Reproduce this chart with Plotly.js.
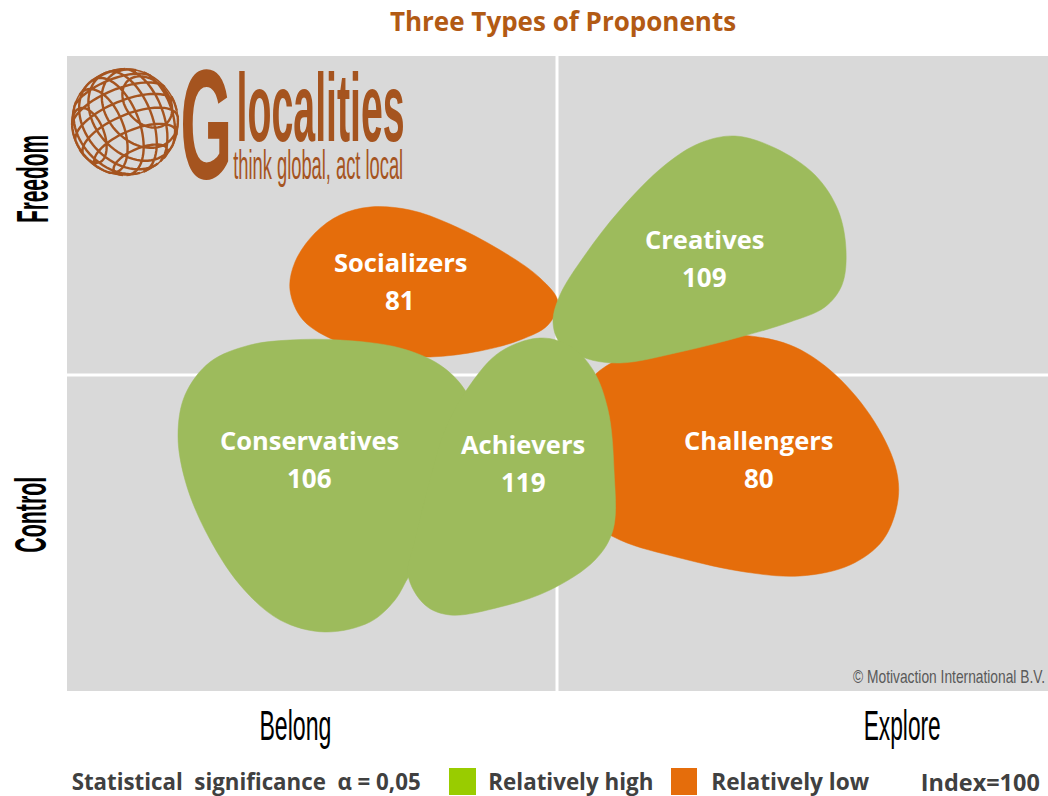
<!DOCTYPE html>
<html><head><meta charset="utf-8">
<script src="https://cdn.plot.ly/plotly-3.0.1.min.js"></script>
<style>html,body{margin:0;padding:0;background:#fff}</style></head>
<body><div id="chart" style="width:1048px;height:796px"></div>
<script>
// Blob outlines
const challengersX=[740,790,830,870,895,898,883,850,800,745,680,620,590,570,570,590,640,700,740];
const challengersY=[335,345,370,415,465,500,540,565,576,572,558,540,520,480,440,380,350,337,335];
const socializersX=[370,410,450,500,540,558,548,520,480,430,380,338,303,290,295,315,340,370];
const socializersY=[207,210,224,250,278,302,325,340,351,357,354,342,320,290,262,233,215,207];
const creativesX=[735,775,815,838,846,842,825,790,740,680,620,585,560,553,560,585,620,665,700,735];
const creativesY=[136,148,175,210,250,285,307,322,337,352,363,358,343,322,295,255,210,165,143,136];
const conservativesX=[290,340,400,440,465,480,470,440,410,395,370,325,280,240,205,185,178,185,210,250,290];
const conservativesY=[340,340,348,365,390,430,500,540,575,600,622,632,620,585,530,480,435,395,362,345,340];
const achieversX=[540,570,593,608,614,613,595,550,500,450,425,408,415,430,445,470,500,540];
const achieversY=[338,346,370,410,470,530,560,590,607,615,605,575,540,480,430,385,352,338];

const segmentNames=['Challengers','Socializers','Creatives','Conservatives','Achievers'];
const segmentIndex=[80,81,109,106,119];
const segmentLabelX=[759,400,704,309,523];
const segmentLabelY=[459,281,258,459,463];
const segmentHigh=[false,false,true,true,true];
const outlinesX=[challengersX,socializersX,creativesX,conservativesX,achieversX];
const outlinesY=[challengersY,socializersY,creativesY,conservativesY,achieversY];

const GREEN='#9dbb5c',ORANGE='#e56d0b',BROWN='#a5541f';
const NARROW='"Liberation Sans Narrow","Liberation Sans",sans-serif';
const UI='"Open Sans","Noto Sans",sans-serif';
const PL=67,PR=1048,PT=56,PB=691;
const fx=px=>(px-PL)/(PR-PL), fy=py=>(PB-py)/(PB-PT);

const traces=segmentNames.map((n,i)=>({
  type:'scatter',mode:'lines',name:n,x:outlinesX[i],y:outlinesY[i],fill:'toself',
  fillcolor:segmentHigh[i]?GREEN:ORANGE,
  line:{color:segmentHigh[i]?GREEN:ORANGE,width:0.5,shape:'spline',smoothing:1},
  hoverinfo:'name',showlegend:false
}));

const fits=[];const draws=[];const anns=[];
function add(text,x,y,opt){
  opt=opt||{};
  anns.push({text:opt.bold?'<b>'+text+'</b>':text,x:fx(x),y:fy(y),xref:'paper',yref:'paper',showarrow:false,
    xanchor:opt.anchor||'center',yanchor:'middle',captureevents:false,
    font:{family:opt.family||NARROW,size:opt.size||20,color:opt.color||'#000'},textangle:opt.angle||0});
  fits.push(opt.fit||0);draws.push(opt.draw?[opt.draw,opt.size]:null);
}
segmentNames.forEach((n,i)=>{
  add(n,segmentLabelX[i],segmentLabelY[i]-19,{family:UI,size:25.5,color:'#fff',bold:true});
  add(String(segmentIndex[i]),segmentLabelX[i],segmentLabelY[i]+19,{family:UI,size:26,color:'#fff',bold:true});
});
add('Belong',295,725,{size:42,color:'#000',fit:72});
add('Explore',902,725,{size:42,color:'#000',fit:77});
add('Freedom',32,179,{size:44,color:'#000',angle:-90,fit:88,bold:true});
add('Control',30,515,{size:44,color:'#000',angle:-90,fit:76,bold:true});
add('© Motivaction International B.V.',949,676,{size:13.5,draw:19,color:'#5a5a5a',fit:192});
add('Statistical  significance  α = 0,05',246,781,{family:UI,size:23,color:'#404040',bold:true,fit:349});
add('Relatively high',571,781,{family:UI,size:23,color:'#404040',bold:true,fit:165});
add('Relatively low',790,781,{family:UI,size:23,color:'#404040',bold:true,fit:158});
add('Index=100',980,782,{family:UI,size:21,draw:23,color:'#404040',bold:true,fit:119});
// Logo
add('G',206,123,{size:60,draw:156,color:BROWN,fit:52,bold:true});
add('localities',320,107,{size:40,draw:96,color:BROWN,fit:168,bold:true});
add('think global, act local',318,165,{size:19,draw:40,color:BROWN,fit:170});

// Logo globe: decorative net on a sphere
const gx=125,gy=122,gr=53;
function globePath(){
  let d='';
  const axes=[[0.35,0.85,0.4],[-0.8,0.3,0.52],[0.5,-0.45,0.74]];
  axes.forEach(ax=>{
    const L=Math.hypot(ax[0],ax[1],ax[2]);const a=ax.map(v=>v/L);
    let u=[a[1],-a[0],0];const lu=Math.hypot(u[0],u[1]);u=u.map(v=>v/lu);
    const v=[a[1]*u[2]-a[2]*u[1],a[2]*u[0]-a[0]*u[2],a[0]*u[1]-a[1]*u[0]];
    [-0.84,-0.56,-0.28,0,0.28,0.56,0.84].forEach(h=>{
      const r=Math.sqrt(1-h*h);let open=false;
      for(let t=0;t<=72;t++){
        const th=t/72*2*Math.PI;
        const p=[0,1,2].map(k=>a[k]*h+r*(Math.cos(th)*u[k]+Math.sin(th)*v[k]));
        if(p[2]>=0){d+=(open?'L':'M')+(gx+gr*p[0]).toFixed(1)+' '+(gy+gr*p[1]).toFixed(1);open=true;}else open=false;
      }
    });
  });
  return d;
}
const shapes=[
  {type:'line',xref:'x',yref:'y',x0:557,x1:557,y0:PT,y1:PB,line:{color:'#fff',width:3},layer:'below'},
  {type:'line',xref:'x',yref:'y',x0:PL,x1:PR,y0:375,y1:375,line:{color:'#fff',width:3},layer:'below'},
  {type:'circle',xref:'x',yref:'y',x0:gx-gr,x1:gx+gr,y0:gy-gr,y1:gy+gr,line:{color:BROWN,width:1.5},fillcolor:'rgba(0,0,0,0)',layer:'above'},
  {type:'path',xref:'x',yref:'y',path:globePath(),line:{color:BROWN,width:2.4},layer:'above'},
  {type:'rect',xref:'paper',yref:'paper',x0:fx(449),x1:fx(476),y0:fy(795),y1:fy(768),fillcolor:'#99cc00',line:{width:0},layer:'above'},
  {type:'rect',xref:'paper',yref:'paper',x0:fx(671),x1:fx(697),y0:fy(795),y1:fy(768),fillcolor:ORANGE,line:{width:0},layer:'above'}
];
const hidden={showgrid:false,zeroline:false,showticklabels:false,ticks:'',showline:false,fixedrange:true};
const layout={
  width:1048,height:796,margin:{l:PL,r:1048-PR,t:PT,b:796-PB},paper_bgcolor:'#fff',plot_bgcolor:'#d9d9d9',
  title:{text:'<b>Three Types of Proponents</b>',xref:'paper',x:fx(563),xanchor:'center',yref:'container',y:1-22/796,yanchor:'middle',
    font:{family:UI,size:26,color:'#b25a14'}},
  xaxis:Object.assign({range:[PL,PR]},hidden),
  yaxis:Object.assign({range:[PB,PT]},hidden),
  showlegend:false,shapes:shapes,annotations:anns
};
Plotly.newPlot('chart',traces,layout,{displayModeBar:false,staticPlot:true}).then(()=>{
  document.querySelectorAll('.annotation').forEach(g=>{
    const i=+g.getAttribute('data-index');const t=g.querySelector('text');
    if(!t)return;
    if(fits[i]){t.setAttribute('textLength',fits[i]);t.setAttribute('lengthAdjust','spacingAndGlyphs');}
    if(draws[i]){
      t.style.fontSize=draws[i][0]+'px';
      t.setAttribute('y',(+t.getAttribute('y')||0)+0.35*(draws[i][0]-draws[i][1]));
    }
  });
});
</script></body></html>
